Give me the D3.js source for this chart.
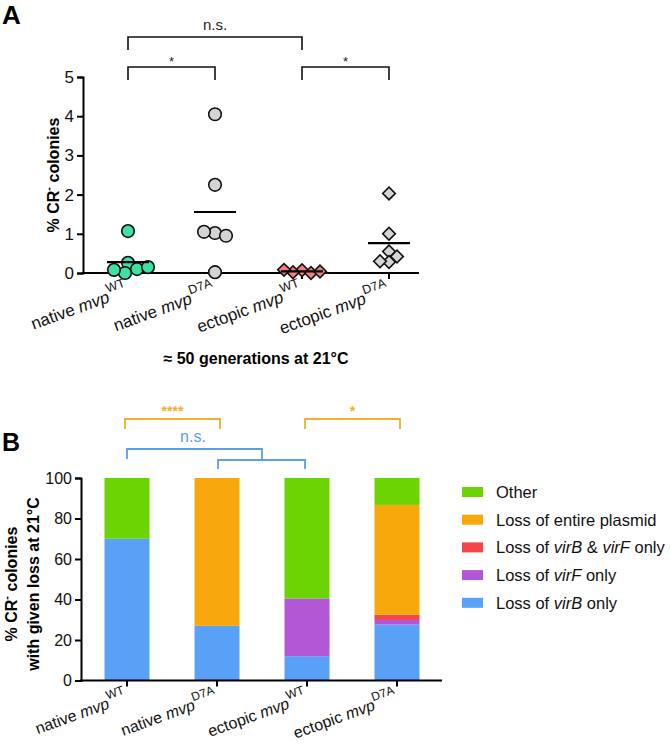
<!DOCTYPE html>
<html><head><meta charset="utf-8">
<script src="https://cdn.jsdelivr.net/npm/d3@7"></script>
<style>body{margin:0;background:#fff} text{font-family:Arial,"Liberation Sans",sans-serif}</style>
</head><body><svg width="670" height="746"></svg>
<script>
// ---------- DATA ----------
const categories = ["native mvp WT","native mvp D7A","ectopic mvp WT","ectopic mvp D7A"];
const catPrefix = ["native ","native ","ectopic ","ectopic "];
const catItalic = ["mvp","mvp","mvp","mvp"];
const catSuper = ["WT","D7A","WT","D7A"];
// Panel A: % CR- colonies
const nativeWT = [1.07,0.26,0.10,0.00,0.08,0.15];
const nativeD7A = [4.05,2.25,1.02,0.95,1.05,0.02];
const ectopicWT = [0.07,0.00,0.02,0.04,0.08];
const ectopicD7A = [2.03,1.00,0.55,0.42,0.28,0.30];
const yTicksA = [0,1,2,3,4,5];
// Panel B: % with given loss
const lossVirB = [70,27,12,27.6];
const lossVirF = [0,0,28.5,2.3];
const lossBoth = [0,0,0,2.6];
const lossPlasmid = [0,73,0,54.2];
const otherLoss = [30,0,59.5,13.3];
const yTicksB = [0,20,40,60,80,100];
const seriesKeys = ["virB","virF","both","plasmid","other"];
const seriesColors = ["#58a1f7","#b457d6","#f2464a","#f7a90b","#6bd402"];
const legendLabels = [
  [["Other",false]],
  [["Loss of entire plasmid",false]],
  [["Loss of ",false],["virB",true],[" & ",false],["virF",true],[" only",false]],
  [["Loss of ",false],["virF",true],[" only",false]],
  [["Loss of ",false],["virB",true],[" only",false]]
];
const legendKeys = ["other","plasmid","both","virF","virB"];
// significance annotations
const sigA = [{a:0,b:2,label:"n.s.",lvl:0},{a:0,b:1,label:"*",lvl:1},{a:2,b:3,label:"*",lvl:1}];
const sigBOrange = [{a:0,b:1,label:"****"},{a:2,b:3,label:"*"}];

// ---------- DRAW ----------
const svg = d3.select("svg");

function catLabel(g, i, size, supSize){
  const t = g.append("text").attr("text-anchor","end").attr("font-size",size).attr("fill","#111");
  t.append("tspan").text(catPrefix[i]);
  t.append("tspan").attr("font-style","italic").text(catItalic[i]);
  t.append("tspan").attr("font-size",supSize).attr("dy",-size*0.55).text(catSuper[i]);
}

// ===== Panel A =====
const yA = d3.scaleLinear().domain([0,5]).range([273,77]);
const xA = d3.scalePoint().domain(categories).range([128,389]);
const gA = svg.append("g");
gA.append("text").attr("x",2).attr("y",24).attr("font-size",26).attr("font-weight","bold").text("A");

const axA = gA.append("g").attr("transform","translate(83,0)")
  .call(d3.axisLeft(yA).tickValues(yTicksA).tickFormat(d3.format("d")).tickSizeOuter(0).tickSize(6).tickPadding(3));
axA.select(".domain").attr("stroke-width",2).attr("stroke","#000");
axA.selectAll(".tick line").attr("stroke-width",2);
axA.selectAll(".tick text").attr("font-size",17).attr("font-family","Arial, 'Liberation Sans', sans-serif").attr("fill","#111");

gA.append("line").attr("x1",82).attr("x2",419).attr("y1",yA(0)).attr("y2",yA(0)).attr("stroke","#000").attr("stroke-width",2);
categories.forEach(c=>{
  gA.append("line").attr("x1",xA(c)).attr("x2",xA(c)).attr("y1",yA(0)).attr("y2",yA(0)+6).attr("stroke","#000").attr("stroke-width",2);
});

// y label
const yLabA = gA.append("text").attr("transform","translate(59,175) rotate(-90)")
  .attr("text-anchor","middle").attr("font-size",16).attr("font-weight","bold");
yLabA.append("tspan").text("% CR");
yLabA.append("tspan").attr("font-size",11).attr("dy",-7).text("-");
yLabA.append("tspan").attr("dy",7).text(" colonies");

// swarm placement
function swarm(vals, y, minD){
  const placed=[];
  return vals.map(v=>{
    const py=y(v); let off=0;
    outer: for(let k=0;k<60;k++){
      const cands = k===0?[0]:[k,-k];
      for(const c of cands){
        if(placed.every(p=>Math.hypot(p.x-c,p.y-py)>=minD)){off=c;break outer;}
      }
    }
    placed.push({x:off,y:py});
    return {v,off,py};
  });
}
const groupsA = [nativeWT,nativeD7A,ectopicWT,ectopicD7A];
const shapesA = ["circle","circle","diamond","diamond"];
const fillsA = ["#3fe0a4","#d4d4d4","#f47d7d","#d4d4d4"];
groupsA.forEach((vals,i)=>{
  const cx = xA(categories[i]);
  const pts = swarm(vals,yA,shapesA[i]==="circle"?10.5:9);
  const sym = shapesA[i]==="circle" ? d3.symbol().type(d3.symbolCircle).size(Math.PI*6.3*6.3)
                                     : d3.symbol().type(d3.symbolSquare).size(80);
  gA.selectAll(null).data(pts).enter().append("path")
    .attr("d",sym)
    .attr("transform",d=>`translate(${cx+d.off},${d.py})`+(shapesA[i]==="diamond"?" rotate(45)":""))
    .attr("fill",fillsA[i]).attr("stroke","#111").attr("stroke-width",1.6);
  const m = d3.mean(vals);
  gA.append("line").attr("x1",cx-21).attr("x2",cx+21).attr("y1",yA(m)).attr("y2",yA(m))
    .attr("stroke","#000").attr("stroke-width",2.2);
});

// x labels A
categories.forEach((c,i)=>{
  const g = gA.append("g").attr("transform",`translate(${xA(c)+1},${yA(0)+22}) rotate(-20)`);
  catLabel(g,i,17,12.5);
});
gA.append("text").attr("x",256).attr("y",364).attr("text-anchor","middle").attr("font-size",16)
  .attr("font-weight","bold").text("\u2248 50 generations at 21\u00B0C");

// brackets A
sigA.forEach(s=>{
  const x1 = xA(categories[s.a]), x2 = xA(categories[s.b]);
  const yTop = s.lvl===0?37:67, yBot = yTop+13;
  gA.append("path").attr("d",`M${x1},${yBot}V${yTop}H${x2}V${yBot}`).attr("fill","none")
    .attr("stroke","#111").attr("stroke-width",1.6);
  gA.append("text").attr("x",(x1+x2)/2).attr("y",s.lvl===0?30:66).attr("text-anchor","middle")
    .attr("font-size",s.lvl===0?15:13).attr("fill","#222").text(s.label);
});

// ===== Panel B =====
const yB = d3.scaleLinear().domain([0,100]).range([680.5,478]);
const xB = d3.scaleBand().domain(categories).range([82,442]).paddingInner(0.5).paddingOuter(0.25);
const gB = svg.append("g");
gB.append("text").attr("x",2).attr("y",451).attr("font-size",25).attr("font-weight","bold").text("B");

const table = categories.map((c,i)=>({cat:c, virB:lossVirB[i], virF:lossVirF[i], both:lossBoth[i], plasmid:lossPlasmid[i], other:otherLoss[i]}));
const stacked = d3.stack().keys(seriesKeys)(table);
stacked.forEach((layer,li)=>{
  gB.selectAll(null).data(layer).enter().append("rect")
    .attr("x",d=>xB(d.data.cat)).attr("width",xB.bandwidth())
    .attr("y",d=>yB(d[1])).attr("height",d=>Math.max(0,yB(d[0])-yB(d[1])))
    .attr("fill",seriesColors[li]);
});

const axB = gB.append("g").attr("transform","translate(81,0)")
  .call(d3.axisLeft(yB).tickValues(yTicksB).tickSizeOuter(0).tickSize(6).tickPadding(3));
axB.select(".domain").attr("stroke-width",2).attr("stroke","#000");
axB.selectAll(".tick line").attr("stroke-width",2);
axB.selectAll(".tick text").attr("font-size",16).attr("font-family","Arial, 'Liberation Sans', sans-serif").attr("fill","#111");
gB.append("line").attr("x1",80).attr("x2",442).attr("y1",yB(0)).attr("y2",yB(0)).attr("stroke","#000").attr("stroke-width",2);
categories.forEach(c=>{
  const cx = xB(c)+xB.bandwidth()/2;
  gB.append("line").attr("x1",cx).attr("x2",cx).attr("y1",yB(0)).attr("y2",yB(0)+6).attr("stroke","#000").attr("stroke-width",2);
});

// y label B
const yLabB = gB.append("text").attr("transform","translate(0,584) rotate(-90)")
  .attr("text-anchor","middle").attr("font-size",16).attr("font-weight","bold");
const l1 = yLabB.append("tspan").attr("x",0).attr("y",17);
l1.append("tspan").text("% CR");
l1.append("tspan").attr("font-size",11).attr("dy",-7).text("-");
l1.append("tspan").attr("dy",7).text(" colonies");
yLabB.append("tspan").attr("x",0).attr("y",39).text("with given loss at 21\u00B0C");

// x labels B
categories.forEach((c,i)=>{
  const cx = xB(c)+xB.bandwidth()/2;
  const g = gB.append("g").attr("transform",`translate(${cx+1},${yB(0)+21}) rotate(-20)`);
  catLabel(g,i,16,12);
});

// brackets B (orange)
const orange = "#f3ae2f", blue = "#5a9fe8";
sigBOrange.forEach(s=>{
  const x1 = xB(categories[s.a])+xB.bandwidth()/2-2, x2 = xB(categories[s.b])+xB.bandwidth()/2+3;
  gB.append("path").attr("d",`M${x1},429V419H${x2}V429`).attr("fill","none").attr("stroke",orange).attr("stroke-width",1.8);
  gB.append("text").attr("x",(x1+x2)/2).attr("y",416).attr("text-anchor","middle").attr("font-size",14)
    .attr("font-weight","bold").attr("fill",orange).text(s.label);
});
// blue nested bracket
const c0 = xB(categories[0])+xB.bandwidth()/2, c1 = xB(categories[1])+xB.bandwidth()/2, c2 = xB(categories[2])+xB.bandwidth()/2;
const mid12 = (c1+c2)/2;
gB.append("path").attr("d",`M${c0},459V449H${mid12}V460`).attr("fill","none").attr("stroke",blue).attr("stroke-width",1.8);
gB.append("path").attr("d",`M${c1+1},469V460H${c2-2}V469`).attr("fill","none").attr("stroke",blue).attr("stroke-width",1.8);
gB.append("text").attr("x",193).attr("y",442).attr("text-anchor","middle").attr("font-size",16).attr("fill",blue).text("n.s.");

// legend
legendKeys.forEach((k,i)=>{
  const y = 492 + i*27.7;
  gB.append("rect").attr("x",462).attr("y",y-5).attr("width",21).attr("height",10)
    .attr("fill",seriesColors[seriesKeys.indexOf(k)]);
  const t = gB.append("text").attr("x",496).attr("y",y+6).attr("font-size",16.5).attr("fill","#111");
  legendLabels[i].forEach(([s,it])=>{ const ts=t.append("tspan").text(s); if(it) ts.attr("font-style","italic"); });
});
</script></body></html>
